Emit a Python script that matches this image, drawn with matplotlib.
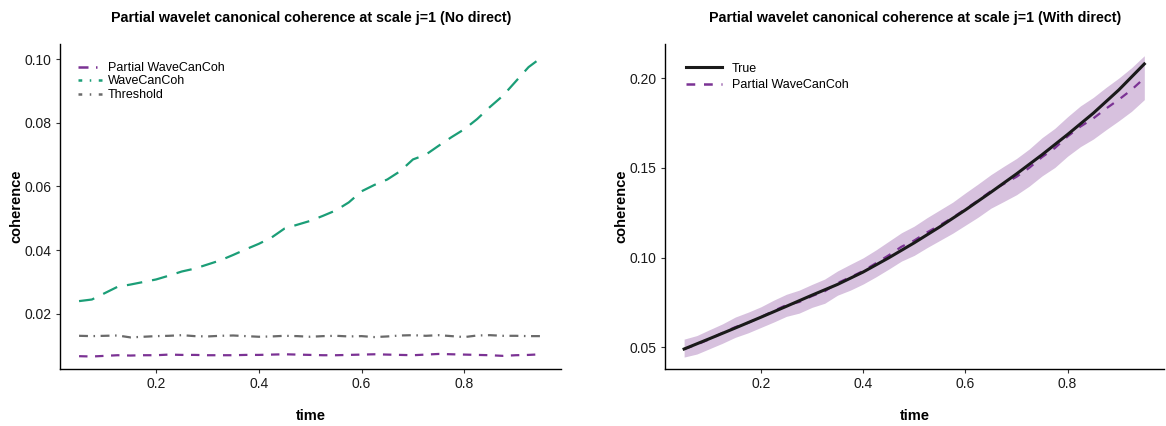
import numpy as np
import matplotlib
matplotlib.use("Agg")
import matplotlib.pyplot as plt
from matplotlib.lines import Line2D

plt.rcParams["font.family"] = ["Liberation Sans", "DejaVu Sans"]

# ---- data -------------------------------------------------------------
time = np.round(np.arange(0.05, 0.951, 0.025), 3)

wavecancoh = [0.0240, 0.0245, 0.0265, 0.0285, 0.0292, 0.0300, 0.0308, 0.0320,
              0.0333, 0.0342, 0.0355, 0.0368, 0.0385, 0.0403, 0.0420, 0.0440,
              0.0468, 0.0480, 0.0492, 0.0508, 0.0525, 0.0550, 0.0585, 0.0605,
              0.0622, 0.0648, 0.0685, 0.0700, 0.0728, 0.0755, 0.0780, 0.0812,
              0.0850, 0.0885, 0.0930, 0.0975, 0.1005]
threshold = [0.0131, 0.0130, 0.0131, 0.0132, 0.0126, 0.0128, 0.0130, 0.0131,
             0.0133, 0.0130, 0.0129, 0.0131, 0.0132, 0.0130, 0.0128, 0.0129,
             0.0131, 0.0130, 0.0128, 0.0130, 0.0131, 0.0129, 0.0130, 0.0127,
             0.0129, 0.0132, 0.0133, 0.0131, 0.0133, 0.0130, 0.0127, 0.0132,
             0.0133, 0.0131, 0.0131, 0.0130, 0.0130]
partial_nodirect = [0.0067, 0.0066, 0.0068, 0.0070, 0.0069, 0.0070, 0.0070, 0.0072,
                    0.0071, 0.0071, 0.0070, 0.0070, 0.0070, 0.0071, 0.0071, 0.0072,
                    0.0073, 0.0072, 0.0071, 0.0070, 0.0070, 0.0071, 0.0072, 0.0073,
                    0.0072, 0.0071, 0.0070, 0.0072, 0.0074, 0.0073, 0.0072, 0.0071,
                    0.0070, 0.0068, 0.0070, 0.0071, 0.0073]

time_true = np.round(np.arange(0.05, 0.951, 0.05), 3)
true_coh = [0.0490, 0.0548, 0.0607, 0.0667, 0.0728, 0.0790, 0.0850, 0.0919,
            0.0998, 0.1082, 0.1171, 0.1265, 0.1364, 0.1466, 0.1573, 0.1686,
            0.1804, 0.1934, 0.2079]

partial_direct = [0.0490, 0.0515, 0.0545, 0.0580, 0.0612, 0.0636, 0.0668, 0.0702,
                  0.0735, 0.0752, 0.0785, 0.0812, 0.0858, 0.0890, 0.0925, 0.0968,
                  0.1012, 0.1060, 0.1095, 0.1140, 0.1180, 0.1222, 0.1270, 0.1318,
                  0.1370, 0.1410, 0.1450, 0.1500, 0.1560, 0.1610, 0.1675, 0.1730,
                  0.1775, 0.1830, 0.1880, 0.1935, 0.2000]
lower = [0.0445, 0.0462, 0.0492, 0.0522, 0.0555, 0.0580, 0.0610, 0.0640,
         0.0672, 0.0690, 0.0722, 0.0745, 0.0790, 0.0818, 0.0852, 0.0892,
         0.0935, 0.0980, 0.1012, 0.1055, 0.1095, 0.1135, 0.1180, 0.1225,
         0.1275, 0.1312, 0.1350, 0.1398, 0.1455, 0.1502, 0.1565, 0.1618,
         0.1660, 0.1712, 0.1762, 0.1815, 0.1880]
upper = [0.0545, 0.0565, 0.0598, 0.0630, 0.0668, 0.0695, 0.0725, 0.0762,
         0.0795, 0.0818, 0.0850, 0.0880, 0.0925, 0.0962, 0.0998, 0.1042,
         0.1090, 0.1138, 0.1175, 0.1222, 0.1265, 0.1308, 0.1360, 0.1410,
         0.1462, 0.1508, 0.1552, 0.1605, 0.1668, 0.1720, 0.1785, 0.1845,
         0.1892, 0.1948, 0.2000, 0.2058, 0.2125]

PURPLE = "#7B3294"
GREEN = "#1B9E77"
GREY = "#6A6A6A"

fig = plt.figure(figsize=(11.66, 4.26), dpi=100)
ax1 = fig.add_axes([0.0515, 0.134, 0.430, 0.763])
ax2 = fig.add_axes([0.5705, 0.134, 0.428, 0.763])


def style(ax):
    for s in ("top", "right"):
        ax.spines[s].set_visible(False)
    for s in ("left", "bottom"):
        ax.spines[s].set_linewidth(1.0)
    ax.tick_params(length=3, width=0.8, color="#333333", labelsize=10,
                   labelcolor="#1a1a1a", pad=3)
    ax.set_xticks([0.2, 0.4, 0.6, 0.8])
    ax.set_xlim(0.013, 0.989)
    ax.set_xlabel("time", fontsize=10.5, fontweight="bold", labelpad=13)
    ax.set_ylabel("coherence", fontsize=10.5, fontweight="bold", labelpad=1)


# ---- left panel -------------------------------------------------------
ax1.plot(time, wavecancoh, color=GREEN, lw=1.6, ls=(0, (7, 4.5)))
ax1.plot(time, threshold, color=GREY, lw=1.6, ls=(0, (4, 2.5, 0.7, 2.5)))
ax1.plot(time, partial_nodirect, color=PURPLE, lw=1.6, ls=(0, (3.8, 3.4)))
style(ax1)
ax1.set_ylim(0.0027, 0.1048)
ax1.set_yticks([0.02, 0.04, 0.06, 0.08, 0.10])
ax1.set_yticklabels(["0.02", "0.04", "0.06", "0.08", "0.10"])
ax1.set_title("Partial wavelet canonical coherence at scale j=1 (No direct)",
              fontsize=10.3, fontweight="bold", pad=15.5)

h1 = [Line2D([], [], color=PURPLE, lw=1.8, ls=(0, (4, 3, 0.6, 3))),
      Line2D([], [], color=GREEN, lw=1.8, ls=(2.5, (4, 3, 0.6, 3))),
      Line2D([], [], color=GREY, lw=1.8, ls=(2.5, (4, 3, 0.6, 3)))]
ax1.legend(h1, ["Partial WaveCanCoh", "WaveCanCoh", "Threshold"],
           loc="upper left", bbox_to_anchor=(0.026, 0.96), frameon=False,
           fontsize=9, handlelength=1.9, handletextpad=0.5,
           labelspacing=0.12, borderaxespad=0)

# ---- right panel ------------------------------------------------------
ax2.fill_between(time, lower, upper, color=PURPLE, alpha=0.3, lw=0)
ax2.plot(time, partial_direct, color=PURPLE, lw=1.6, ls=(0, (3.8, 3.8)))
ax2.plot(time_true, true_coh, color="#1a1a1a", lw=2.2)
style(ax2)
ax2.set_ylim(0.0379, 0.2191)
ax2.set_yticks([0.05, 0.10, 0.15, 0.20])
ax2.set_yticklabels(["0.05", "0.10", "0.15", "0.20"])
ax2.set_title("Partial wavelet canonical coherence at scale j=1 (With direct)",
              fontsize=10.3, fontweight="bold", pad=15.5)

h2 = [Line2D([], [], color="#1a1a1a", lw=2.2),
      Line2D([], [], color=PURPLE, lw=1.8, ls=(0, (3.5, 3.5)))]
ax2.legend(h2, ["True", "Partial WaveCanCoh"],
           loc="upper left", bbox_to_anchor=(0.031, 0.958), frameon=False,
           fontsize=9, handlelength=2.9, handletextpad=0.8,
           labelspacing=0.35, borderaxespad=0)

fig.savefig("out.png", dpi=100)
